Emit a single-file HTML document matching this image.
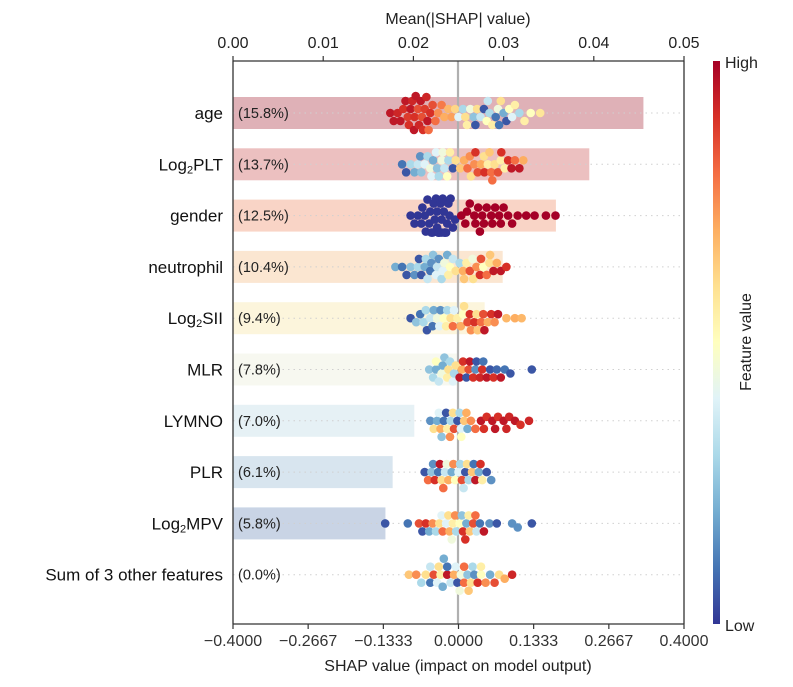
<!DOCTYPE html>
<html><head><meta charset="utf-8">
<style>
body{margin:0;background:#fff;}
svg{display:block;font-family:"Liberation Sans",Arial,sans-serif;}
</style></head>
<body>
<svg id="chart" width="793" height="687" viewBox="0 0 793 687">
<defs>
<linearGradient id="cbar" x1="0" y1="1" x2="0" y2="0">
<stop offset="0" stop-color="#313695"/><stop offset="0.1" stop-color="#4575b4"/><stop offset="0.2" stop-color="#74add1"/><stop offset="0.3" stop-color="#abd9e9"/><stop offset="0.4" stop-color="#e0f3f8"/><stop offset="0.5" stop-color="#ffffbf"/><stop offset="0.6" stop-color="#fee090"/><stop offset="0.7" stop-color="#fdae61"/><stop offset="0.8" stop-color="#f46d43"/><stop offset="0.9" stop-color="#d73027"/><stop offset="1" stop-color="#a50026"/>
</linearGradient>
</defs>
<g id="bars"></g>
<g id="rowlines"></g>
<line x1="458" y1="61" x2="458" y2="624" stroke="#b0b0b0" stroke-width="2.2"/>
<g id="dots"></g>
<g id="labels"></g>
<g id="axes"></g>
<rect x="713" y="61" width="7" height="563" fill="url(#cbar)"/>
<text x="725" y="68" font-size="16" fill="#222">High</text>
<text x="725" y="631" font-size="16" fill="#222">Low</text>
<text transform="translate(751,342) rotate(-90)" text-anchor="middle" font-size="16" fill="#222">Feature value</text>
<text x="458" y="24" text-anchor="middle" font-size="16" fill="#222">Mean(|SHAP| value)</text>
<text x="458" y="671" text-anchor="middle" font-size="16" fill="#222">SHAP value (impact on model output)</text>
</svg>
<script>
const features = ["age","Log2PLT","gender","neutrophil","Log2SII","MLR","LYMNO","PLR","Log2MPV","Sum of 3 other features"];
const meanAbs = [0.0455,0.0395,0.0358,0.0299,0.0279,0.0249,0.0201,0.0177,0.0169,0.0];
const pctLabels = ["(15.8%)","(13.7%)","(12.5%)","(10.4%)","(9.4%)","(7.8%)","(7.0%)","(6.1%)","(5.8%)","(0.0%)"];
const barColors = ["#dfb1b7","#ecc0c0","#f9d4c6","#fbe6d1","#fcf5dc","#f7f8f0","#e6f1f5","#d8e5ef","#c9d4e5","#ffffff"];
const topTicks = [0,0.01,0.02,0.03,0.04,0.05];
const topTickLabels = ["0.00","0.01","0.02","0.03","0.04","0.05"];
const bottomTicks = [-0.4,-0.2667,-0.1333,0,0.1333,0.2667,0.4];
const bottomTickLabels = ["\u22120.4000","\u22120.2667","\u22120.1333","0.0000","0.1333","0.2667","0.4000"];
const shapAge = [-0.121,-0.115,-0.108,-0.103,-0.098,-0.094,-0.09,-0.085,-0.082,-0.078,-0.076,-0.072,-0.07,-0.067,-0.063,-0.06,-0.057,-0.053,-0.05,-0.046,-0.041,-0.036,-0.03,-0.025,-0.018,-0.012,-0.006,0.0,0.008,0.015,0.021,0.027,0.033,0.039,0.045,0.05,0.055,0.06,0.066,0.07,0.075,0.08,0.085,0.09,0.095,0.1,0.108,0.117,0.128,0.145,-0.088,-0.079,-0.065,-0.055,0.012,0.03,0.052,0.072];
const featAge = [0.95,0.95,0.92,0.95,0.9,0.95,0.88,0.95,0.92,0.9,0.95,0.85,0.92,0.95,0.9,0.88,0.92,0.8,0.9,0.85,0.8,0.75,0.78,0.7,0.68,0.72,0.62,0.4,0.3,0.55,0.45,0.25,0.6,0.35,0.05,0.5,0.3,0.55,0.1,0.45,0.6,0.2,0.05,0.5,0.4,0.55,0.3,0.55,0.5,0.58,0.9,0.95,0.85,0.95,0.6,0.05,0.35,0.1];
const shapPLT = [-0.1,-0.093,-0.085,-0.078,-0.072,-0.066,-0.06,-0.055,-0.05,-0.045,-0.04,-0.035,-0.03,-0.025,-0.02,-0.015,-0.01,-0.005,0.003,0.01,0.016,0.022,0.028,0.034,0.04,0.046,0.052,0.058,0.064,0.07,0.076,0.082,0.088,0.094,0.1,0.108,0.115,-0.068,-0.048,-0.038,-0.028,-0.018,0.02,0.03,0.045,0.06,0.075,0.055];
const featPLT = [0.1,0.05,0.3,0.2,0.35,0.25,0.4,0.3,0.45,0.2,0.4,0.3,0.45,0.35,0.5,0.55,0.05,0.6,0.65,0.7,0.8,0.6,0.75,0.85,0.7,0.9,0.55,0.8,0.6,0.85,0.9,0.55,0.9,0.95,0.8,0.95,0.7,0.15,0.4,0.25,0.45,0.3,0.75,0.9,0.6,0.8,0.55,0.65];
const shapGender = [-0.085,-0.078,-0.072,-0.066,-0.06,-0.055,-0.05,-0.046,-0.042,-0.038,-0.034,-0.03,-0.026,-0.022,-0.018,-0.014,-0.01,-0.006,-0.064,-0.058,-0.052,-0.044,-0.04,-0.036,-0.032,-0.028,-0.024,-0.02,-0.016,-0.048,-0.038,-0.03,-0.025,-0.035,0.005,0.012,0.02,0.028,0.035,0.042,0.05,0.058,0.065,0.072,0.08,0.088,0.095,0.105,0.12,0.135,0.155,0.172,0.03,0.045,0.06,0.075,0.015,0.038];
const featGender = [0,0,0,0,0,0,0,0,0,0,0,0,0,0,0,0,0,0,0,0,0,0,0,0,0,0,0,0,0,0,0,0,0,0,1,1,1,1,1,1,1,1,1,1,1,1,1,1,1,1,1,1,1,1,1,1,1,1];
const shapNeut = [-0.112,-0.1,-0.092,-0.085,-0.078,-0.072,-0.066,-0.06,-0.055,-0.05,-0.045,-0.04,-0.035,-0.03,-0.025,-0.02,-0.015,-0.01,-0.005,0.002,0.008,0.014,0.02,0.026,0.032,0.038,0.044,0.05,0.056,0.062,0.068,0.075,0.085,-0.07,-0.058,-0.048,-0.038,-0.028,-0.018,0.01,0.025,0.04,0.055];
const featNeut = [0.2,0.1,0.05,0.25,0.15,0.3,0.05,0.2,0.35,0.1,0.25,0.4,0.15,0.3,0.45,0.2,0.5,0.35,0.6,0.3,0.7,0.55,0.85,0.6,0.75,0.9,0.5,0.8,0.65,0.95,0.7,0.95,0.9,0.05,0.3,0.15,0.35,0.4,0.55,0.65,0.45,0.85,0.6];
const shapSII = [-0.085,-0.075,-0.068,-0.062,-0.056,-0.05,-0.044,-0.038,-0.032,-0.026,-0.02,-0.014,-0.008,-0.002,0.004,0.01,0.016,0.022,0.028,0.034,0.04,0.046,0.052,0.058,0.064,0.07,0.085,0.1,0.112,-0.058,-0.046,-0.034,-0.022,-0.01,0.008,0.02,0.032,0.044];
const featSII = [0.05,0.25,0.1,0.3,0.05,0.35,0.2,0.45,0.15,0.5,0.3,0.6,0.4,0.55,0.7,0.6,0.85,0.75,0.9,0.65,0.8,0.95,0.7,0.9,0.75,0.95,0.68,0.7,0.68,0.3,0.1,0.4,0.55,0.8,0.5,0.9,0.6,0.85];
const shapMLR = [-0.052,-0.045,-0.04,-0.035,-0.03,-0.025,-0.02,-0.015,-0.01,-0.005,0.002,0.008,0.014,0.02,0.026,0.032,0.038,0.044,0.05,0.056,0.062,0.068,0.075,0.082,0.092,0.13,-0.04,-0.028,-0.018,-0.008,0.006,0.018,0.03,0.042];
const featMLR = [0.25,0.3,0.2,0.35,0.45,0.25,0.55,0.3,0.4,0.6,0.95,0.9,0.05,0.95,0.9,0.05,0.92,0.1,0.95,0.05,0.9,0.08,0.95,0.1,0.05,0.05,0.5,0.2,0.6,0.3,0.7,0.85,0.15,0.9];
const shapLYM = [-0.05,-0.044,-0.038,-0.032,-0.026,-0.02,-0.014,-0.008,-0.002,0.004,0.01,0.016,0.022,0.03,0.04,0.05,0.06,0.07,0.08,0.09,0.1,0.11,0.125,-0.035,-0.022,-0.01,0.002,0.014,0.045,0.065,0.085,-0.03,-0.015,0.005];
const featLYM = [0.15,0.6,0.2,0.7,0.1,0.55,0.3,0.85,0.05,0.4,0.65,0.2,0.75,0.8,0.95,0.9,0.95,0.9,0.95,0.92,0.95,0.9,0.92,0.4,0.05,0.6,0.3,0.7,0.9,0.95,0.92,0.25,0.75,0.5];
const shapPLR = [-0.06,-0.054,-0.048,-0.042,-0.036,-0.03,-0.024,-0.018,-0.012,-0.006,0.0,0.006,0.012,0.018,0.024,0.03,0.036,0.042,0.05,0.058,-0.045,-0.033,-0.021,-0.009,0.003,0.015,0.027,0.039,-0.027,0.009];
const featPLR = [0.05,0.8,0.25,0.9,0.1,0.6,0.35,0.7,0.2,0.5,0.4,0.85,0.05,0.3,0.65,0.95,0.2,0.55,0.05,0.15,0.15,0.95,0.45,0.75,0.3,0.6,0.1,0.9,0.8,0.35];
const shapMPV = [-0.13,-0.09,-0.07,-0.064,-0.058,-0.052,-0.046,-0.04,-0.034,-0.028,-0.022,-0.016,-0.01,-0.004,0.002,0.008,0.014,0.02,0.026,0.032,0.038,0.045,0.055,0.068,0.095,0.105,0.13,-0.03,-0.018,-0.006,0.006,0.018,0.03,-0.012,0.012];
const featMPV = [0.05,0.1,0.85,0.05,0.9,0.2,0.75,0.3,0.6,0.8,0.4,0.7,0.55,0.3,0.5,0.9,0.2,0.65,0.85,0.35,0.1,0.95,0.15,0.05,0.15,0.15,0.05,0.4,0.6,0.75,0.25,0.55,0.8,0.45,0.9];
const shapSum = [-0.088,-0.075,-0.066,-0.058,-0.05,-0.044,-0.038,-0.032,-0.026,-0.02,-0.014,-0.008,-0.002,0.004,0.01,0.016,0.022,0.028,0.034,0.04,0.048,0.056,0.064,0.072,0.082,0.095,-0.05,-0.035,-0.02,-0.005,0.01,0.025,0.04,-0.028,0.002,0.018];
const featSum = [0.65,0.75,0.3,0.6,0.1,0.85,0.4,0.55,0.2,0.95,0.35,0.7,0.05,0.45,0.8,0.25,0.6,0.15,0.9,0.5,0.75,0.2,0.85,0.6,0.7,0.92,0.35,0.6,0.1,0.4,0.8,0.3,0.55,0.2,0.45,0.65];
const shapRows = [shapAge,shapPLT,shapGender,shapNeut,shapSII,shapMLR,shapLYM,shapPLR,shapMPV,shapSum];
const featRows = [featAge,featPLT,featGender,featNeut,featSII,featMLR,featLYM,featPLR,featMPV,featSum];

const NS="http://www.w3.org/2000/svg";
const L=233,R=684,T=61,B=624;
const xTop=v=>L+(v/0.05)*(R-L);
const xBot=v=>L+((v+0.4)/0.8)*(R-L);
const rowY=i=>113+i*51.3;
function mk(tag,attrs,parent){const e=document.createElementNS(NS,tag);for(const k in attrs)e.setAttribute(k,attrs[k]);parent.appendChild(e);return e;}
const stops=[[0,[49,54,149]],[0.1,[69,117,180]],[0.2,[116,173,209]],[0.3,[171,217,233]],[0.4,[224,243,248]],[0.5,[255,255,191]],[0.6,[254,224,144]],[0.7,[253,174,97]],[0.8,[244,109,67]],[0.9,[215,48,39]],[1,[165,0,38]]];
function cmap(t){t=Math.max(0,Math.min(1,t));for(let i=1;i<stops.length;i++){if(t<=stops[i][0]){const a=stops[i-1],b=stops[i],f=(t-a[0])/(b[0]-a[0]);return "rgb("+a[1].map((c,j)=>Math.round(c+(b[1][j]-c)*f)).join(",")+")";}}return "rgb(165,0,38)";}

const gB=document.getElementById('bars'),gR=document.getElementById('rowlines'),gD=document.getElementById('dots'),gL=document.getElementById('labels'),gA=document.getElementById('axes');
features.forEach((f,i)=>{
  const y=rowY(i);
  if(meanAbs[i]>0){
    const r=mk('rect',{x:L,y:y-16,width:xTop(meanAbs[i])-L,height:32,fill:barColors[i]},gB);
    
    
  }
  const ln=mk('line',{x1:L,x2:R,y1:y,y2:y,stroke:'#d0d0d0','stroke-width':1,'stroke-dasharray':'1.5,4'},gR);
  
  
  const p=mk('text',{x:238,y:y+5,'font-size':14.5,fill:'#222'},gL);
  p.textContent=pctLabels[i];
  
  
  const t=mk('text',{x:223,y:y+6,'font-size':17,fill:'#111','text-anchor':'end'},gL);
  if(f.startsWith('Log2')){
    t.appendChild(document.createTextNode('Log'));
    const s=mk('tspan',{'font-size':11,dy:3},t);s.textContent='2';
    const r2=mk('tspan',{'font-size':17,dy:-3},t);r2.textContent=f.slice(4);
  } else t.textContent=f;
  
  
  const vals=shapRows[i],fv=featRows[i];
  const idx=vals.map((v,k)=>k).sort((a,b)=>vals[a]-vals[b]);
  const placed=[];
  idx.forEach(k=>{
    const x=xBot(vals[k]);let off=0;
    for(let s=0;s<30;s++){
      const cand=s===0?0:(s%2?1:-1)*Math.ceil(s/2)*4;
      off=cand;
      if(!placed.some(q=>Math.hypot(q[0]-x,q[1]-cand)<6.5))break;
    }
    off=Math.max(-17,Math.min(17,off));
    placed.push([x,off]);
    const c=mk('circle',{cx:x.toFixed(1),cy:(y+off).toFixed(1),r:4.3,fill:cmap(fv[k])},gD);
    
    
  });
});
[[L,T,R,T],[L,B,R,B],[L,T,L,B],[R,T,R,B]].forEach((a,j)=>{
  const l=mk('line',{x1:a[0],y1:a[1],x2:a[2],y2:a[3],stroke:'#333','stroke-width':1.3},gA);
  
  
});
topTicks.forEach((v,j)=>{
  const x=xTop(v);
  const l=mk('line',{x1:x,x2:x,y1:T-5,y2:T,stroke:'#333','stroke-width':1.2},gA);
  
  
  const t=mk('text',{x:x,y:48,'font-size':16,fill:'#222','text-anchor':'middle'},gA);
  t.textContent=topTickLabels[j];
  
  
});
bottomTicks.forEach((v,j)=>{
  const x=xBot(v);
  const l=mk('line',{x1:x,x2:x,y1:B,y2:B+5,stroke:'#333','stroke-width':1.2},gA);
  
  
  const t=mk('text',{x:x,y:646,'font-size':16,fill:'#333','text-anchor':'middle'},gA);
  t.textContent=bottomTickLabels[j];
  
  
});
</script>
</body></html>
